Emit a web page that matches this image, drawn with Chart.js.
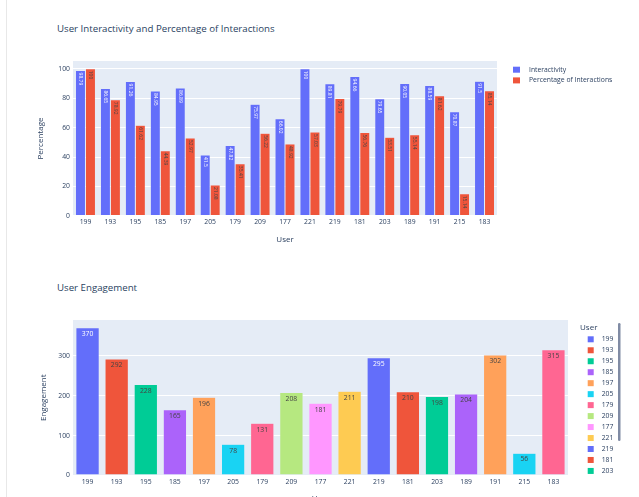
<!DOCTYPE html>
<html lang="en">
<head>
<meta charset="UTF-8">
<title>User Interactivity and Engagement</title>
<script src="https://cdn.jsdelivr.net/npm/chart.js"></script>
<style>
  body { margin: 0; width: 639px; height: 497px; overflow: hidden; background: #fff; position: relative; font-family: "Open Sans", sans-serif; }
  .edge { position: absolute; left: 6px; top: 0; width: 1px; height: 497px; background: #e8e8e8; }
  .title { position: absolute; left: 57px; font-size: 9.7px; line-height: 12px; color: #2a3f5f; white-space: nowrap; }
  canvas { position: absolute; left: 0; }
</style>
</head>
<body>
<div class="edge"></div>
<div class="title" style="top:23px">User Interactivity and Percentage of Interactions</div>
<div class="title" style="top:282px">User Engagement</div>
<canvas id="topChart" width="639" height="255" style="top:0"></canvas>
<canvas id="bottomChart" width="639" height="255" style="top:255px"></canvas>

<script>
const users = ['199', '193', '195', '185', '197', '205', '179', '209', '177', '221', '219', '181', '203', '189', '191', '215', '183'];
const interactivity = [98.79, 86.65, 91.26, 84.95, 86.89, 41.5, 47.82, 75.97, 66.02, 100, 89.81, 94.66, 79.65, 90.05, 88.59, 70.87, 91.5];
const interactionPct = [100, 78.92, 61.62, 44.39, 52.97, 21.08, 35.41, 56.22, 48.92, 57.03, 79.79, 56.76, 53.51, 55.14, 81.62, 15.14, 85.14];
const engagement = [370, 292, 228, 165, 196, 78, 131, 208, 181, 211, 295, 210, 198, 204, 302, 56, 315];
const palette = ['#636efa', '#EF553B', '#00cc96', '#ab63fa', '#FFA15A', '#19d3f3', '#FF6692', '#B6E880', '#FF97FF', '#FECB52'];

const FONT = '"Open Sans", sans-serif';
const INK = '#2a3f5f';
const userColors = users.map((u, i) => palette[i % palette.length]);

// light blue plot background behind the grid
const plotBg = {
  id: 'plotBg',
  beforeDraw(chart) {
    const { ctx, chartArea: a } = chart;
    ctx.save();
    ctx.fillStyle = '#E5ECF6';
    ctx.fillRect(a.left, a.top, a.right - a.left, a.bottom - a.top);
    ctx.restore();
  }
};

// value labels inside the top end of each bar
const barText = {
  id: 'barText',
  afterDatasetsDraw(chart, args, opts) {
    const ctx = chart.ctx;
    ctx.save();
    ctx.font = opts.size + 'px ' + FONT;
    chart.data.datasets.forEach((ds, di) => {
      chart.getDatasetMeta(di).data.forEach((bar, i) => {
        const bg = String(bar.options.backgroundColor).toLowerCase();
        ctx.fillStyle = bg === '#636efa' ? '#ffffff' : '#444444';
        const text = String(ds.data[i]);
        if (opts.vertical) {
          ctx.save();
          ctx.translate(bar.x, bar.y + opts.offset);
          ctx.rotate(Math.PI / 2);
          ctx.textAlign = 'left';
          ctx.textBaseline = 'middle';
          ctx.fillText(text, 0, 0);
          ctx.restore();
        } else {
          ctx.textAlign = 'center';
          ctx.textBaseline = 'top';
          ctx.fillText(text, bar.x, bar.y + opts.offset);
        }
      });
    });
    ctx.restore();
  }
};

// legend on the right side, one row per dataset or per category
const sideLegend = {
  id: 'sideLegend',
  afterDraw(chart, args, opts) {
    const ctx = chart.ctx;
    let items;
    if (opts.perCategory) {
      const ds = chart.data.datasets[0];
      items = chart.data.labels.map((l, i) => ({ text: l, color: ds.backgroundColor[i] }));
    } else {
      items = chart.data.datasets.map(ds => ({ text: ds.label, color: ds.backgroundColor }));
    }
    ctx.save();
    ctx.textBaseline = 'middle';
    ctx.textAlign = 'left';
    if (opts.title) {
      ctx.fillStyle = INK;
      ctx.font = '8px ' + FONT;
      ctx.fillText(opts.title, opts.titleX, opts.titleY);
    }
    ctx.font = '6.8px ' + FONT;
    const maxY = opts.maxY || chart.height;
    items.forEach((it, i) => {
      const y = opts.y + i * opts.rowGap;
      if (y > maxY) return;
      ctx.fillStyle = it.color;
      ctx.fillRect(opts.boxX, y - opts.boxH / 2, opts.boxW, opts.boxH);
      ctx.fillStyle = INK;
      ctx.fillText(it.text, opts.textX, y);
    });
    if (opts.scrollbar) {
      const s = opts.scrollbar;
      ctx.fillStyle = '#808BA4';
      ctx.beginPath();
      ctx.roundRect(s.x, s.y, s.w, s.h, s.w / 2);
      ctx.fill();
    }
    ctx.restore();
  }
};

function tickFont() { return { family: FONT, size: 6.8 }; }
function titleFont() { return { family: FONT, size: 8 }; }

new Chart(document.getElementById('topChart'), {
  type: 'bar',
  data: {
    labels: users,
    datasets: [
      { label: 'Interactivity', data: interactivity, backgroundColor: '#636efa', borderColor: '#E5ECF6', borderWidth: 0.5 },
      { label: 'Percentage of Interactions', data: interactionPct, backgroundColor: '#EF553B', borderColor: '#E5ECF6', borderWidth: 0.5 }
    ]
  },
  options: {
    responsive: false,
    animation: false,
    layout: { padding: { left: 32, right: 142, top: 61, bottom: 0 } },
    datasets: { bar: { categoryPercentage: 0.8, barPercentage: 1 } },
    scales: {
      x: {
        grid: { display: false, drawTicks: false },
        border: { display: false },
        ticks: { color: INK, font: tickFont(), padding: 2, maxRotation: 0, autoSkip: false },
        title: { display: true, text: 'User', color: INK, font: titleFont(), padding: { top: 0, bottom: 10 } },
        afterFit: s => { s.height = 39; }
      },
      y: {
        min: 0,
        max: 105.26,
        grid: { color: '#ffffff', lineWidth: c => (c.tick && c.tick.value === 0 ? 2 : 1), drawTicks: false },
        border: { display: false },
        ticks: { stepSize: 20, includeBounds: false, color: INK, font: tickFont(), padding: 3 },
        title: { display: true, text: 'Percentage', color: INK, font: titleFont(), padding: { top: 4, bottom: 4 } },
        afterFit: s => { s.width = 41; }
      }
    },
    plugins: {
      legend: { display: false },
      tooltip: { enabled: false },
      barText: { size: 5, offset: 2, vertical: true },
      sideLegend: { y: 69.7, rowGap: 10.7, boxX: 513, boxW: 7, boxH: 6, textX: 529 }
    }
  },
  plugins: [plotBg, barText, sideLegend]
});

new Chart(document.getElementById('bottomChart'), {
  type: 'bar',
  data: {
    labels: users,
    datasets: [
      { label: 'Engagement', data: engagement, backgroundColor: userColors, borderColor: '#E5ECF6', borderWidth: 0.5 }
    ]
  },
  options: {
    responsive: false,
    animation: false,
    layout: { padding: { left: 35, right: 71, top: 65, bottom: 0 } },
    datasets: { bar: { categoryPercentage: 0.8, barPercentage: 1 } },
    scales: {
      x: {
        grid: { display: false, drawTicks: false },
        border: { display: false },
        ticks: { color: INK, font: tickFont(), padding: 2, maxRotation: 0, autoSkip: false },
        title: { display: true, text: 'User', color: INK, font: titleFont(), padding: { top: 0, bottom: 6 } },
        afterFit: s => { s.height = 34.5; }
      },
      y: {
        min: 0,
        max: 389.5,
        grid: { color: '#ffffff', lineWidth: c => (c.tick && c.tick.value === 0 ? 2 : 1), drawTicks: false },
        border: { display: false },
        ticks: { stepSize: 100, includeBounds: false, color: INK, font: tickFont(), padding: 3 },
        title: { display: true, text: 'Engagement', color: INK, font: titleFont(), padding: { top: 4, bottom: 4 } },
        afterFit: s => { s.width = 38; }
      }
    },
    plugins: {
      legend: { display: false },
      tooltip: { enabled: false },
      barText: { size: 6.8, offset: 3, vertical: false },
      sideLegend: {
        perCategory: true,
        title: 'User', titleX: 580, titleY: 72.7,
        y: 84.3, rowGap: 10.97, boxX: 587.7, boxW: 6, boxH: 6, textX: 601.7, maxY: 218,
        scrollbar: { x: 618, y: 68, w: 2.5, h: 118 }
      }
    }
  },
  plugins: [plotBg, barText, sideLegend]
});
</script>
</body>
</html>
